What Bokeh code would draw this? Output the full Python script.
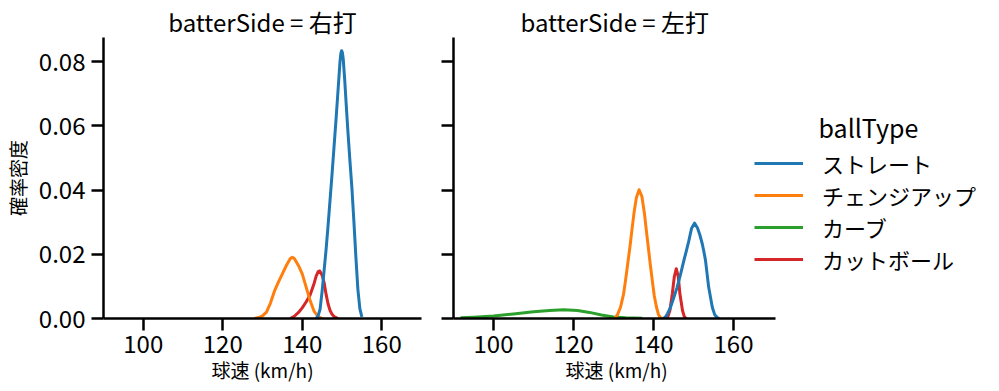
from bokeh.plotting import figure
from bokeh.models import (Range1d, FixedTicker, NumeralTickFormatter, Legend, LegendItem, Label,
                          CustomJSTickFormatter, Title)
from bokeh.layouts import row
from bokeh.embed import file_html
from bokeh.resources import INLINE

FONT = "Noto Sans CJK JP"

ball_types = ["ストレート", "チェンジアップ", "カーブ", "カットボール"]
colors = ["#1f77b4", "#ff7f0e", "#2ca02c", "#d62728"]
panel_names = ["右打", "左打"]
x_ticks = [100, 120, 140, 160]
y_ticks = [0.0, 0.02, 0.04, 0.06, 0.08]
x_label = "球速 (km/h)"
y_label = "確率密度"
legend_title = "ballType"

# ---- 右打 (right-handed batters) ----
r_straight_x = [143.5, 144.0, 144.5, 145.0, 145.5, 146.0, 146.5, 147.0, 147.5, 148.0, 148.5, 149.0, 149.5, 149.7,
                149.9, 150.1, 150.3, 150.7, 151.1, 151.5, 152.0, 152.5, 153.0, 153.5, 154.0, 154.5, 155.0]
r_straight_y = [0.0000, 0.0008, 0.0030, 0.0085, 0.0150, 0.0215, 0.0290, 0.0370, 0.0450, 0.0535, 0.0620, 0.0710, 0.0800, 0.0825,
                0.0834, 0.0828, 0.0810, 0.0740, 0.0658, 0.0580, 0.0490, 0.0405, 0.0300, 0.0190, 0.0090, 0.0030, 0.0005]

r_change_x = [128.0, 129.0, 130.0, 131.0, 132.0, 133.0, 134.0, 135.0, 136.0, 137.0, 137.5, 138.0, 139.0, 140.0,
              141.0, 142.0, 143.0, 144.0, 145.0]
r_change_y = [0.0000, 0.0003, 0.0008, 0.0020, 0.0048, 0.0085, 0.0113, 0.0139, 0.0165, 0.0187, 0.0191, 0.0187, 0.0166, 0.0139,
              0.0097, 0.0055, 0.0022, 0.0006, 0.0000]

r_cutter_x = [137.0, 138.0, 139.0, 140.0, 141.0, 142.0, 143.0, 143.5, 144.0, 144.4, 145.0, 145.5, 146.0, 146.5,
              147.0, 147.5, 148.0, 149.0]
r_cutter_y = [0.0000, 0.0007, 0.0018, 0.0033, 0.0052, 0.0074, 0.0110, 0.0132, 0.0146, 0.0148, 0.0135, 0.0112, 0.0075, 0.0045,
              0.0025, 0.0013, 0.0006, 0.0000]

# ---- 左打 (left-handed batters) ----
l_straight_x = [142.5, 143.0, 143.5, 144.25, 145.0, 145.9, 146.8, 147.6, 148.2, 148.8, 149.5, 150.25, 151.0, 151.6,
                152.2, 152.6, 153.0, 153.8, 154.7, 155.3, 156.0, 156.5]
l_straight_y = [0.0000, 0.0005, 0.0015, 0.0035, 0.0062, 0.0097, 0.0140, 0.0181, 0.0210, 0.0240, 0.0280, 0.0297, 0.0282, 0.0260,
                0.0232, 0.0208, 0.0181, 0.0097, 0.0035, 0.0012, 0.0002, 0.0000]

l_change_x = [130.0, 130.5, 131.0, 131.75, 132.5, 133.0, 133.5, 134.1, 134.6, 135.1, 135.7, 136.4, 137.1, 137.75,
              138.2, 138.7, 139.2, 139.7, 140.2, 140.75, 141.25, 141.75, 142.5]
l_change_y = [0.0000, 0.0003, 0.0012, 0.0035, 0.0075, 0.0118, 0.0165, 0.0222, 0.0275, 0.0326, 0.0375, 0.0401, 0.0380, 0.0326,
              0.0275, 0.0222, 0.0168, 0.0118, 0.0070, 0.0035, 0.0012, 0.0002, 0.0000]

l_curve_x = [91.75, 95.0, 100.0, 105.0, 110.0, 114.0, 117.5, 121.0, 124.0, 127.0, 130.0, 133.0, 137.2]
l_curve_y = [0.0002, 0.0004, 0.0008, 0.0014, 0.0021, 0.0025, 0.0027, 0.0025, 0.0019, 0.0011, 0.0005, 0.0002, 0.0001]

l_cutter_x = [143.2, 143.6, 144.1, 144.7, 145.2, 145.7, 146.2, 146.6, 147.25, 147.7, 148.2]
l_cutter_y = [0.0000, 0.0006, 0.0025, 0.0077, 0.0130, 0.0155, 0.0130, 0.0077, 0.0025, 0.0006, 0.0000]

panel_data = [
    {"ストレート": (r_straight_x, r_straight_y),
     "チェンジアップ": (r_change_x, r_change_y),
     "カットボール": (r_cutter_x, r_cutter_y)},
    {"ストレート": (l_straight_x, l_straight_y),
     "チェンジアップ": (l_change_x, l_change_y),
     "カーブ": (l_curve_x, l_curve_y),
     "カットボール": (l_cutter_x, l_cutter_y)},
]

X0, X1 = 90, 170
Y0, Y1 = 0.0, 0.0875
H = 391
TOP, BOTTOM = 37, 73


def make_panel(name, curves, width, mb_left, mb_right, x_end, first):
    p = figure(width=width, height=H, x_range=Range1d(X0, x_end), y_range=Range1d(Y0, Y1),
               output_backend="svg", toolbar_location=None,
               min_border_left=mb_left, min_border_right=mb_right,
               min_border_top=TOP, min_border_bottom=BOTTOM)
    p.outline_line_color = None
    p.xgrid.visible = False
    p.ygrid.visible = False
    p.background_fill_color = "white"
    p.border_fill_color = "white"

    renderers = {}
    for bt, c in reversed(list(zip(ball_types, colors))):
        if bt in curves:
            xs, ys = curves[bt]
            renderers[bt] = p.line(xs, ys, line_color=c, line_width=3, line_join="round")

    for ax in (p.xaxis, p.yaxis):
        ax.axis_line_width = 2.5
        ax.axis_line_color = "black"
        ax.major_tick_line_width = 2.5
        ax.major_tick_line_color = "black"
        ax.major_tick_out = 12
        ax.major_tick_in = 0
        ax.minor_tick_out = 0
        ax.minor_tick_in = 0
        ax.major_label_text_font = FONT
        ax.major_label_text_font_size = "24px"
        ax.major_label_text_color = "black"
        ax.axis_label_text_font = FONT
        ax.axis_label_text_font_size = "19px"
        ax.axis_label_text_font_style = "normal"
        ax.axis_label_text_color = "black"

    p.xaxis.ticker = FixedTicker(ticks=x_ticks)
    p.xaxis.bounds = (X0, X1 + 0.5)
    p.xaxis.major_label_standoff = 4
    p.yaxis.ticker = FixedTicker(ticks=y_ticks)
    if first:
        p.xaxis.axis_label = x_label
        p.xaxis.axis_label_standoff = 0
        p.yaxis.formatter = NumeralTickFormatter(format="0.00")
        p.yaxis.axis_label = y_label
        p.yaxis.major_label_standoff = 6
        p.yaxis.axis_label_standoff = 5
    else:
        p.yaxis.formatter = CustomJSTickFormatter(code="return ''")
        p.yaxis.major_label_standoff = 0
        # x-axis title placed under the data region (the frame is wider to hold the legend)
        p.add_layout(Title(text=x_label, align="left", offset=112, standoff=0, vertical_align="top",
                           text_font=FONT, text_font_size="19px", text_font_style="normal",
                           text_color="black"), "below")

    p.title.text = "batterSide = " + name
    p.title.text_font = FONT
    p.title.text_font_size = "24px"
    p.title.text_font_style = "normal"
    p.title.text_color = "black"
    p.title.standoff = -3
    return p, renderers


W1 = 425
p1, _ = make_panel(panel_names[0], panel_data[0], W1, 100, 4, X1, True)
p1.title.align = "center"

W2 = 999 - W1
FRAME2 = W2 - 28
p2, rend2 = make_panel(panel_names[1], panel_data[1], W2, 28, 0, X0 + FRAME2 / 4.0, False)
p2.title.align = "left"
p2.title.offset = 67

items = [LegendItem(label=bt, renderers=[rend2[bt]]) for bt in ball_types]
legend = Legend(items=items, location=(301, 43), padding=0, margin=0,
                border_line_color=None, background_fill_alpha=0,
                glyph_width=49, glyph_height=30, label_height=30, label_standoff=19, spacing=0,
                label_text_font=FONT, label_text_font_size="22px", label_text_color="black")
p2.add_layout(legend)
p2.add_layout(Label(x=181.25, y=0.0596, text=legend_title, text_font=FONT, text_font_size="25px",
                    text_align="left", text_baseline="alphabetic", text_color="black"))

layout = row(p1, p2)
open("out.html", "w").write(file_html(layout, INLINE))
